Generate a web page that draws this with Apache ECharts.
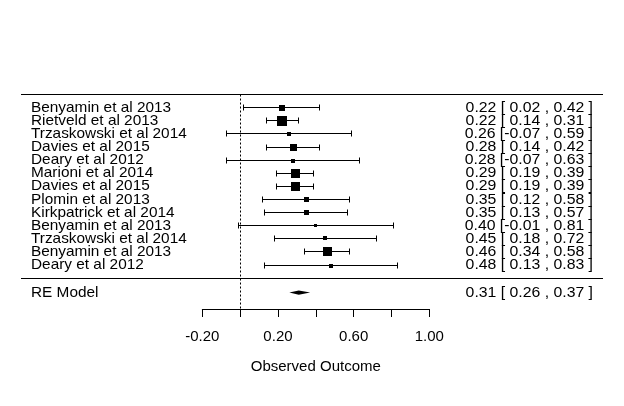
<!DOCTYPE html>
<html><head><meta charset="utf-8">
<script src="https://cdn.jsdelivr.net/npm/echarts@6/dist/echarts.min.js"></script>
<style>html,body{margin:0;padding:0;background:#fff}#chart{width:624px;height:406px}</style>
</head><body><div id="chart"></div>
<script>
// ---- data ----
const studies = ['Benyamin et al 2013','Rietveld et al 2013','Trzaskowski et al 2014','Davies et al 2015','Deary et al 2012','Marioni et al 2014','Davies et al 2015','Plomin et al 2013','Kirkpatrick et al 2014','Benyamin et al 2013','Trzaskowski et al 2014','Benyamin et al 2013','Deary et al 2012'];
const estimates = [0.22,0.22,0.26,0.28,0.28,0.29,0.29,0.35,0.35,0.40,0.45,0.46,0.48];
const lowerCI   = [0.02,0.14,-0.07,0.14,-0.07,0.19,0.19,0.12,0.13,-0.01,0.18,0.34,0.13];
const upperCI   = [0.42,0.31,0.59,0.42,0.63,0.39,0.39,0.58,0.57,0.81,0.72,0.58,0.83];
const weights   = [7.5,17.9,2.5,10.4,2.3,15.4,15.4,4.8,5.2,1.7,3.6,15.0,2.3]; // estimated % weights
const summaryLabel = 'RE Model';
const summaryValues = [0.31, 0.26, 0.37]; // estimate, lower, upper
const axisTicks = [-0.2, 0.0, 0.2, 0.4, 0.6, 0.8, 1.0];
const axisTitle = 'Observed Outcome';

// ---- layout ----
const FONT = '"Liberation Sans", Arial, Helvetica, sans-serif';
const plotLeft = 21, plotRight = 603, axisLeft = 202.3, axisRight = 429.3, axisY = 309;
const axisMin = axisTicks[0], axisMax = axisTicks[axisTicks.length - 1], axisStep = 0.2;
const unitPx = (axisRight - axisLeft) / (axisMax - axisMin);
const zeroPx = axisLeft - axisMin * unitPx;
const xMin = (plotLeft - zeroPx) / unitPx, xMax = (plotRight - zeroPx) / unitPx;
const k = studies.length;
const rows = studies.map((_, i) => k - i);
const topRow = k + 1, sepRow = 0, summaryRow = -1.1, yMin = -2.35;

const wMin = Math.min(...weights), wMax = Math.max(...weights);
const sizeOf = w => 10 * (0.5 + (w - wMin) / (wMax - wMin)) / 1.5;
const pad = v => (v < 0 ? '' : ' ') + v.toFixed(2);
const annot = (e, l, u) => e.toFixed(2) + ' [' + pad(l) + ' , ' + u.toFixed(2) + ' ]';
const snap = v => Math.round(v - 0.5) + 0.5;

const studyData = studies.map((s, i) => [estimates[i], rows[i], lowerCI[i], upperCI[i], sizeOf(weights[i])]);
const txt = (x, y, text, align, sx) => ({
  type: 'text', x: x, y: y, scaleX: sx,
  style: {text: text, fill: '#000', fontSize: 14.5, fontFamily: FONT, align: align, verticalAlign: 'middle'}
});
const ln = (x1, y1, x2, y2, dash) => ({
  type: 'line', shape: {x1, y1, x2, y2},
  style: {stroke: '#000', lineWidth: 1, lineDash: dash || null}
});

const chart = echarts.init(document.getElementById('chart'));
chart.setOption({
  animation: false,
  backgroundColor: '#fff',
  grid: [
    {left: plotLeft, right: 624 - plotRight, top: 94.6, bottom: 406 - axisY},
    {left: axisLeft, width: axisRight - axisLeft, top: axisY - 10, height: 10}
  ],
  xAxis: [
    {gridIndex: 0, type: 'value', min: xMin, max: xMax, show: false},
    {gridIndex: 1, type: 'value', min: axisMin, max: axisMax, interval: axisStep,
     splitLine: {show: false},
     axisLine: {show: true, lineStyle: {color: '#000', width: 1}},
     axisTick: {show: true, length: 8, lineStyle: {color: '#000', width: 1}},
     axisLabel: {color: '#000', fontSize: 15, fontFamily: FONT, margin: 20,
       formatter: v => (Math.round((v - axisMin) / axisStep) % 2 === 0 ? v.toFixed(2) : '')},
     name: axisTitle, nameLocation: 'middle', nameGap: 50,
     nameTextStyle: {color: '#000', fontSize: 15, fontFamily: FONT}}
  ],
  yAxis: [
    {gridIndex: 0, type: 'value', min: yMin, max: topRow, show: false},
    {gridIndex: 1, type: 'value', min: 0, max: 1, show: false}
  ],
  series: [
    { // frame: header line, separator line, reference line
      type: 'custom', xAxisIndex: 0, yAxisIndex: 0, silent: true,
      data: [[0, topRow, sepRow]],
      renderItem(params, api) {
        const cs = params.coordSys;
        const yt = snap(api.coord([0, api.value(1)])[1]);
        const ys = snap(api.coord([0, api.value(2)])[1]);
        const xr = snap(api.coord([api.value(0), 0])[0]);
        return {type: 'group', children: [
          ln(cs.x, yt, cs.x + cs.width, yt),
          ln(cs.x, ys, cs.x + cs.width, ys),
          ln(xr, yt, xr, cs.y + cs.height, [2, 2])
        ]};
      }
    },
    { // studies
      type: 'custom', xAxisIndex: 0, yAxisIndex: 0,
      data: studyData,
      renderItem(params, api) {
        const cs = params.coordSys, i = params.dataIndex;
        const e = api.value(0), r = api.value(1), lo = api.value(2), hi = api.value(3), sz = api.value(4);
        const p = api.coord([e, r]), pl = api.coord([lo, r]), ph = api.coord([hi, r]);
        const y = snap(p[1]), xl = snap(pl[0]), xh = snap(ph[0]);
        const cap = 3;
        return {type: 'group', children: [
          ln(xl, y, xh, y),
          ln(xl, y - cap, xl, y + cap),
          ln(xh, y - cap, xh, y + cap),
          {type: 'rect', shape: {x: Math.round(p[0] - sz / 2), y: Math.round(y - sz / 2), width: Math.round(sz), height: Math.round(sz)}, style: {fill: '#000'}},
          txt(cs.x + 10, p[1], studies[i], 'left', 1.06),
          txt(cs.x + cs.width - 10, p[1], annot(estimates[i], lowerCI[i], upperCI[i]), 'right', 1.09)
        ]};
      }
    },
    { // summary diamond
      type: 'custom', xAxisIndex: 0, yAxisIndex: 0,
      data: [[summaryValues[0], summaryRow, summaryValues[1], summaryValues[2]]],
      renderItem(params, api) {
        const cs = params.coordSys;
        const r = api.value(1);
        const p = api.coord([api.value(0), r]), pl = api.coord([api.value(2), r]), ph = api.coord([api.value(3), r]);
        const h = 2.2;
        return {type: 'group', children: [
          {type: 'polygon', shape: {points: [[pl[0], p[1]], [p[0], p[1] - h], [ph[0], p[1]], [p[0], p[1] + h]]},
           style: {fill: '#000'}},
          txt(cs.x + 10, p[1], summaryLabel, 'left', 1.06),
          txt(cs.x + cs.width - 10, p[1], annot(summaryValues[0], summaryValues[1], summaryValues[2]), 'right', 1.09)
        ]};
      }
    }
  ]
});
</script></body></html>
